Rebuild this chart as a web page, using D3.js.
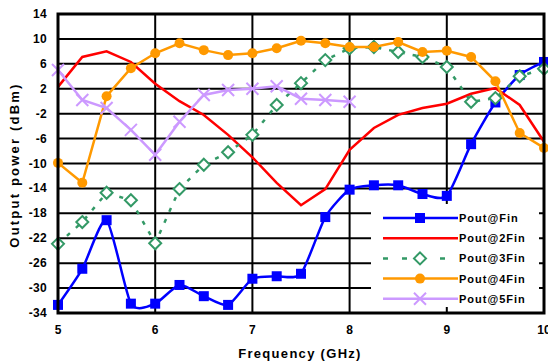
<!DOCTYPE html>
<html>
<head>
<title>Output power vs frequency</title>
<script src="https://d3js.org/d3.v7.min.js"></script>
<style>
  body { margin: 0; background: #fff; }
  text { font-family: "Liberation Sans", Arial, sans-serif; font-weight: bold; fill: #000; }
</style>
</head>
<body>
<script>

// frequencies, 0.25 GHz steps
var freq = [5, 5.25, 5.5, 5.75, 6, 6.25, 6.5, 6.75, 7, 7.25, 7.5, 7.75, 8,
            8.25, 8.5, 8.75, 9, 9.25, 9.5, 9.75, 10];

// output power (dBm)
var poutFin  = [-32.7, -26.9, -19.1, -32.5, -32.5, -29.5, -31.3, -32.7, -28.5, -28.1, -27.7, -18.6, -14.2,
                -13.5, -13.5, -14.9, -15.2, -6.9, -0.2, 4.2, 6.3];
var pout2Fin = [2.3, 7.1, 8.0, 6.3, 2.8, 0.0, -2.2, -5.4, -9.0, -13.1, -16.7, -14.1, -7.8,
                -4.3, -2.2, -1.1, -0.4, 1.2, 2.1, -0.6, -6.5];
var pout3Fin = [-22.9, -19.4, -14.7, -15.9, -22.8, -14.1, -10.2, -8.2, -5.4, -0.6, 2.9, 6.6, 8.5,
                8.7, 7.9, 7.1, 5.5, -0.1, 0.5, 4.0, 5.2];
var pout4Fin = [-9.9, -13.1, 0.8, 5.3, 7.7, 9.3, 8.2, 7.4, 7.7, 8.5, 9.7, 9.3, 8.7,
                8.7, 9.5, 7.9, 8.1, 7.1, 3.2, -5.1, -7.5];
var pout5Fin = [5.0, 0.2, -1.1, -4.6, -8.6, -3.3, 1.0, 1.8, 2.0, 2.4, 0.4, 0.2, -0.1];

var xTicks = [5, 6, 7, 8, 9, 10];
var yTicks = [14, 10, 6, 2, -2, -6, -10, -14, -18, -22, -26, -30, -34];

var series = [
  { name: "Pout@Fin",  values: poutFin,  color: "#0000ff", marker: "square",  dash: null,  smooth: true },
  { name: "Pout@2Fin", values: pout2Fin, color: "#ff0000", marker: null,      dash: null,  smooth: false },
  { name: "Pout@3Fin", values: pout3Fin, color: "#339966", marker: "diamond", dash: "4,8", smooth: false },
  { name: "Pout@4Fin", values: pout4Fin, color: "#ff9900", marker: "circle",  dash: null,  smooth: false },
  { name: "Pout@5Fin", values: pout5Fin, color: "#cc99ff", marker: "cross",   dash: null,  smooth: false }
];

var W = 548, H = 363;
var pLeft = 58, pRight = 544, pTop = 14, pBottom = 313;

var svg = d3.select("body").append("svg")
    .attr("width", W)
    .attr("height", H);

var x = d3.scaleLinear().domain([5, 10]).range([pLeft, pRight]);
var y = d3.scaleLinear().domain([-34, 14]).range([pBottom, pTop]);

// grid
svg.append("g").selectAll("line")
    .data(yTicks)
    .enter().append("line")
    .attr("x1", pLeft).attr("x2", pRight)
    .attr("y1", function (d) { return y(d); })
    .attr("y2", function (d) { return y(d); })
    .attr("stroke", "#000").attr("stroke-width", 2);

svg.append("g").selectAll("line")
    .data(xTicks)
    .enter().append("line")
    .attr("y1", pTop).attr("y2", pBottom)
    .attr("x1", function (d) { return x(d); })
    .attr("x2", function (d) { return x(d); })
    .attr("stroke", "#000").attr("stroke-width", 2);

// tick labels
svg.append("g").selectAll("text")
    .data(yTicks)
    .enter().append("text")
    .attr("x", 47)
    .attr("y", function (d) { return y(d) + 4; })
    .attr("text-anchor", "end")
    .attr("font-size", "12px")
    .attr("letter-spacing", "0.3px")
    .text(function (d) { return d; });

svg.append("g").selectAll("text")
    .data(xTicks)
    .enter().append("text")
    .attr("x", function (d) { return x(d); })
    .attr("y", 334)
    .attr("text-anchor", "middle")
    .attr("font-size", "12px")
    .text(function (d) { return d; });

// axis titles
svg.append("text")
    .attr("x", 300).attr("y", 358)
    .attr("text-anchor", "middle")
    .attr("font-size", "13px")
    .attr("letter-spacing", "1.3px")
    .text("Frequency (GHz)");

svg.append("text")
    .attr("transform", "translate(19,165) rotate(-90)")
    .attr("text-anchor", "middle")
    .attr("font-size", "13px")
    .attr("letter-spacing", "2.2px")
    .text("Output power (dBm)");

// markers
function drawMarker(g, type, color, cx, cy) {
  if (type == "square") {
    g.append("rect").attr("x", cx - 5).attr("y", cy - 5)
      .attr("width", 10).attr("height", 10).attr("fill", color);
  } else if (type == "circle") {
    g.append("circle").attr("cx", cx).attr("cy", cy).attr("r", 5).attr("fill", color);
  } else if (type == "diamond") {
    g.append("path")
      .attr("d", "M" + cx + "," + (cy - 6) + "L" + (cx + 6) + "," + cy + "L" + cx + "," + (cy + 6) + "L" + (cx - 6) + "," + cy + "Z")
      .attr("fill", "#fff").attr("stroke", color).attr("stroke-width", 2);
  } else if (type == "cross") {
    g.append("path")
      .attr("d", "M" + (cx - 6) + "," + (cy - 6) + "L" + (cx + 6) + "," + (cy + 6) + "M" + (cx - 6) + "," + (cy + 6) + "L" + (cx + 6) + "," + (cy - 6))
      .attr("stroke", color).attr("stroke-width", 2);
  }
}

// series
series.forEach(function (s) {
  var pts = s.values.map(function (v, i) { return [freq[i], v]; });
  var line = d3.line()
      .x(function (d) { return x(d[0]); })
      .y(function (d) { return y(d[1]); })
      .curve(s.smooth ? d3.curveCardinal.tension(0.35) : d3.curveLinear);
  var g = svg.append("g");
  g.append("path")
    .attr("d", line(pts))
    .attr("fill", "none")
    .attr("stroke", s.color)
    .attr("stroke-width", 2.5)
    .attr("stroke-dasharray", s.dash);
  if (s.marker) {
    pts.forEach(function (p) { drawMarker(g, s.marker, s.color, x(p[0]), y(p[1])); });
  }
});

// border
svg.append("rect")
    .attr("x", pLeft).attr("y", pTop)
    .attr("width", pRight - pLeft).attr("height", pBottom - pTop)
    .attr("fill", "none").attr("stroke", "#000").attr("stroke-width", 3);

// legend
var lg = svg.append("g");
lg.append("rect")
    .attr("x", 371).attr("y", 204)
    .attr("width", 168).attr("height", 103)
    .attr("fill", "#fff");

series.forEach(function (s, i) {
  var ly = 218 + i * 20.2;
  lg.append("line")
    .attr("x1", 383).attr("x2", 458)
    .attr("y1", ly).attr("y2", ly)
    .attr("stroke", s.color).attr("stroke-width", 2.5)
    .attr("stroke-dasharray", s.dash ? "5,14" : null);
  if (s.marker) drawMarker(lg, s.marker, s.color, 420, ly);
  lg.append("text")
    .attr("x", 459).attr("y", ly + 4)
    .attr("font-size", "11px")
    .attr("letter-spacing", "1px")
    .text(s.name);
});

</script>
</body>
</html>
